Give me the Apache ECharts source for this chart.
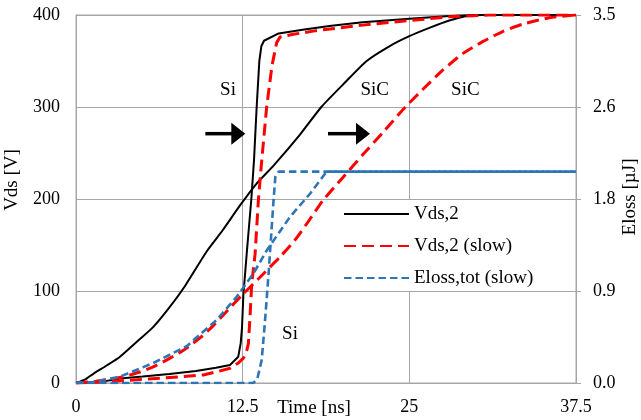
<!DOCTYPE html>
<html>
<head>
<meta charset="utf-8">
<script src="https://cdn.jsdelivr.net/npm/echarts@6/dist/echarts.min.js"></script>
<style>
  html, body { margin: 0; padding: 0; background: #fff; }
  #chart { width: 641px; height: 420px; }
</style>
</head>
<body>
<div id="chart"></div>
<script>
// Drain-source voltage and switching loss during turn-off, Si vs SiC (time in ns)
const xTickLabels = ['0', '12.5', '25', '37.5'];
const vdsTickLabels = ['0', '100', '200', '300', '400'];
const elossTickLabels = ['0.0', '0.9', '1.8', '2.6', '3.5'];

// Vds,2 — Si device [t (ns), V]
const vdsSi = [[0,0],[2,1.5],[3.3,5],[5,7],[7,9.8],[9,13],[10.5,16.5],[11.55,19.6],[12.17,28.6],[12.35,43],
  [12.45,60],[12.55,95],[12.8,140],[13.15,200],[13.35,242],[13.55,300],[13.75,350],[13.9,366],[14.1,372],
  [15.2,380],[17,384],[19,388],[21.5,392],[25,396],[28,399],[30,400],[37.5,400]];
// Vds,2 — SiC device
const vdsSiC = [[0,0],[0.7,4],[1.3,10],[2.3,19],[3.3,28.6],[4.5,44],[5.8,61],[7.05,83],[8.2,106],[9.8,143],
  [11,166],[12.3,193],[13.5,216],[14.8,236],[16.8,270],[18.4,300],[20,324],[21.8,350],[23.5,366],[25,377],
  [26.5,386],[28,394],[29.3,399],[30.5,400],[37.5,400]];
// Vds,2 (slow) — Si device
const vdsSlowSi = [[0,0],[2,1],[4,3],[6,5],[8,7],[9.55,8.7],[10.5,12],[11.55,16],[12.2,22],[12.55,27],[12.8,35],
  [12.93,43],[13.05,72],[13.18,108],[13.43,140],[13.68,199],[13.93,242],[14.3,300],[14.7,345],[15.05,370],
  [15.3,376],[16.3,379],[18,383],[21.5,389],[25,394],[28,398],[31,400],[37.5,400]];
// Vds,2 (slow) — SiC device
const vdsSlowSiC = [[0,0],[1.5,2],[3.3,6],[4.8,12],[6,19],[7.05,27],[8.2,37],[9.3,49],[10.2,61],[11.05,74],
  [12.55,97],[13.8,115],[15.3,137],[16.4,155],[17.4,175],[18.5,198],[20,223],[21.5,248],[23,272],[24.7,300],
  [26,319],[27.5,340],[29,358],[30.5,371],[32,382],[33.5,390],[35.5,397],[37.5,400]];
// Eloss,tot (slow) — Si device [t (ns), µJ]
const elossSlowSi = [[0,0],[13.3,0],[13.6,0.04],[13.93,0.22],[14.2,0.63],[14.45,1.05],[14.8,1.71],
  [14.95,1.96],[15.2,2.01],[37.5,2.01]];
// Eloss,tot (slow) — SiC device
const elossSlowSiC = [[0,0],[1.3,0.01],[3.3,0.06],[5.8,0.19],[8.3,0.35],[10.55,0.6],[12.05,0.82],[13.3,1.04],
  [14.3,1.26],[16.05,1.58],[17.55,1.8],[18.68,1.99],[18.9,2.01],[37.5,2.01]];

const seriesNames = ['Vds,2', 'Vds,2 (slow)', 'Eloss,tot (slow)'];

// Annotations in data coordinates (left axis)
const labelNotes = [
  { text: 'Si', at: [11.4, 318] },
  { text: 'SiC', at: [22.4, 318] },
  { text: 'SiC', at: [29.2, 318] },
  { text: 'Si', at: [16.05, 53] }
];
const arrowNotes = [
  { from: [9.7, 271], to: [12.7, 271] },
  { from: [18.9, 271], to: [22.05, 271] }
];

const FONT = 'Liberation Serif';
const GRID_COLOR = '#a6a6a6';

const chart = echarts.init(document.getElementById('chart'), null, { renderer: 'canvas' });

const black = { color: '#000', width: 2, type: 'solid' };
const red = { color: '#ff0000', width: 3, type: [12, 6] };
const blue = { color: '#2e75b6', width: 2.6, type: [7.5, 4] };

function line(name, data, style, yAxisIndex, smooth) {
  return {
    name: name, type: 'line', data: data, yAxisIndex: yAxisIndex,
    symbol: 'none', showSymbol: false, smooth: smooth || false,
    lineStyle: style, itemStyle: { color: style.color },
    emphasis: { disabled: true }
  };
}

chart.setOption({
  animation: false,
  backgroundColor: '#fff',
  textStyle: { fontFamily: FONT },
  grid: { left: 76, right: 65, top: 15, bottom: 37, show: true, borderColor: GRID_COLOR, borderWidth: 1 },
  legend: {
    data: seriesNames,
    orient: 'vertical',
    left: 332, top: 200,
    padding: [4, 6, 3, 11],
    backgroundColor: '#fff',
    itemWidth: 65, itemHeight: 14, itemGap: 12,
    // line-only keys: hide the marker drawn on the sample line
    itemStyle: { color: 'transparent', borderColor: 'transparent', borderWidth: 0, opacity: 0 },
    textStyle: { fontFamily: FONT, fontSize: 19, color: '#000', lineHeight: 20 }
  },
  xAxis: {
    type: 'value', min: 0, max: 37.5, interval: 12.5,
    axisLine: { show: true, lineStyle: { color: GRID_COLOR } },
    axisTick: { show: false },
    splitLine: { show: true, lineStyle: { color: GRID_COLOR, width: 1 } },
    axisLabel: {
      margin: 15, color: '#000', fontFamily: FONT, fontSize: 18,
      formatter: (v, i) => xTickLabels[i]
    }
  },
  yAxis: [
    {
      type: 'value', min: 0, max: 400, interval: 100,
      axisLine: { show: true, lineStyle: { color: GRID_COLOR } },
      axisTick: { show: false },
      splitLine: { show: true, lineStyle: { color: GRID_COLOR, width: 1 } },
      axisLabel: {
        margin: 16, color: '#000', fontFamily: FONT, fontSize: 18,
        formatter: (v, i) => vdsTickLabels[i]
      }
    },
    {
      type: 'value', min: 0, max: 3.5, interval: 0.875, position: 'right',
      axisLine: { show: true, lineStyle: { color: GRID_COLOR } },
      axisTick: { show: true, inside: false, length: 5, lineStyle: { color: GRID_COLOR } },
      splitLine: { show: false },
      axisLabel: {
        margin: 17, color: '#000', fontFamily: FONT, fontSize: 18,
        formatter: (v, i) => elossTickLabels[i]
      }
    }
  ],
  series: [
    line(seriesNames[0], vdsSi, black, 0),
    line(seriesNames[0], vdsSiC, black, 0, 0.2),
    line(seriesNames[1], vdsSlowSi, red, 0),
    line(seriesNames[1], vdsSlowSiC, red, 0, 0.2),
    line(seriesNames[2], elossSlowSi, blue, 1),
    line(seriesNames[2], elossSlowSiC, blue, 1)
  ]
});

// Place axis titles, region labels and arrows
function px(pt) { return chart.convertToPixel({ xAxisIndex: 0, yAxisIndex: 0 }, pt); }

const graphics = [];
labelNotes.forEach(n => {
  const p = px(n.at);
  graphics.push({
    type: 'text', x: p[0], y: p[1],
    style: { text: n.text, font: '19px "' + FONT + '"', fill: '#000', align: 'center', verticalAlign: 'middle' }
  });
});
arrowNotes.forEach(a => {
  const p0 = px(a.from), p1 = px(a.to);
  const headLen = 14, half = 11;
  graphics.push({
    type: 'line', shape: { x1: p0[0], y1: p0[1], x2: p1[0] - headLen + 1, y2: p1[1] },
    style: { stroke: '#000', lineWidth: 3.5 }
  });
  graphics.push({
    type: 'polygon',
    shape: { points: [[p1[0] - headLen, p1[1] - half], [p1[0], p1[1]], [p1[0] - headLen, p1[1] + half]] },
    style: { fill: '#000' }
  });
});
// Axis titles
graphics.push({
  type: 'text', x: 12, y: 180, rotation: Math.PI / 2,
  style: { text: 'Vds [V]', font: '19px "' + FONT + '"', fill: '#000', align: 'center', verticalAlign: 'middle' }
});
graphics.push({
  type: 'text', x: 630, y: 197, rotation: Math.PI / 2,
  style: { text: 'Eloss [µJ]', font: '19px "' + FONT + '"', fill: '#000', align: 'center', verticalAlign: 'middle' }
});
graphics.push({
  type: 'text', x: 314, y: 408,
  style: { text: 'Time [ns]', font: '19px "' + FONT + '"', fill: '#000', align: 'center', verticalAlign: 'middle' }
});

chart.setOption({ graphic: graphics });
</script>
</body>
</html>
